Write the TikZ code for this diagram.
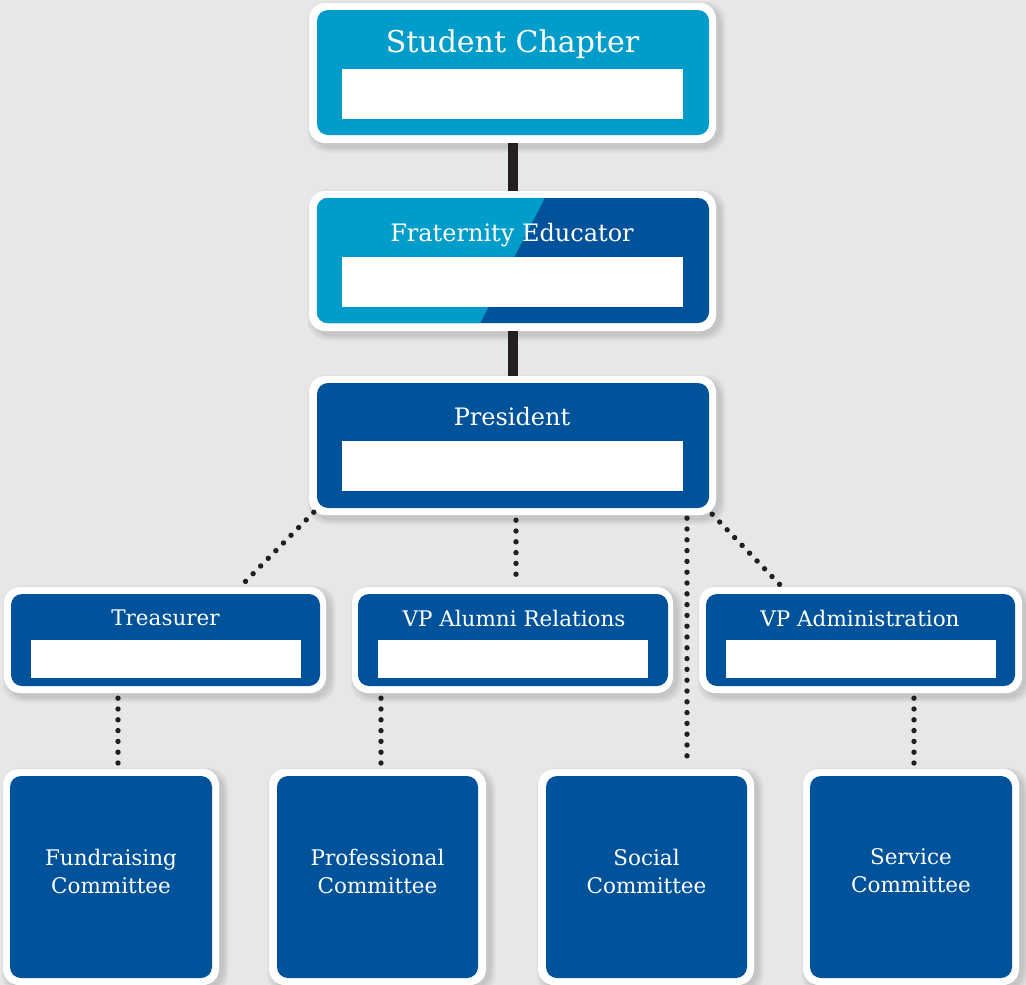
\documentclass[tikz,border=0pt]{standalone}
\usepackage{fontspec}
\setmainfont{DejaVu Serif}
\usetikzlibrary{calc}
\definecolor{bg}{HTML}{E6E7E9}
\definecolor{lblue}{HTML}{009CCA}
\definecolor{dblue}{HTML}{00529B}
\definecolor{ink}{HTML}{231F20}
\tikzset{
  outerbox/.style={draw=none, fill=white, rounded corners=16pt, inner sep=0pt},
  shadowbox/.style={draw=none, fill=black, fill opacity=0.035, rounded corners=20pt, inner sep=0pt},
  innerbox/.style={draw=none, rounded corners=11pt, inner sep=0pt},
  namefield/.style={draw=none, fill=white, inner sep=0pt},
  lbl/.style={text=white, inner sep=0pt, align=center},
  solidlink/.style={draw=ink, line width=10pt},
  dotlink/.style={draw=ink, line width=5.4pt, line cap=round, dash pattern=on 0pt off 10.8pt},
}
\begin{document}
\begin{tikzpicture}[x=1pt,y=-1pt]
\fill[bg] (0,0) rectangle (1026,985);
\useasboundingbox (0,0) rectangle (1026,985);

% ---------- soft shadows ----------
\foreach \cx/\cy/\w/\h in {512.5/73/407/140, 512.5/261/407/140, 512.5/445.5/407/139,
  165/640/322/106, 512.5/640/321/106, 860.5/640/323/106,
  111/877/216/216, 377.5/877/217/216, 646/877/216/216, 911/877/216/216}{
  \foreach \g in {2,5,8,11}{
    \node[shadowbox, minimum width=\w+\g, minimum height=\h+\g] at (\cx+4,\cy+4) {};
  }
}

% ---------- top level ----------
\node[outerbox, minimum width=407, minimum height=140] (sc) at (512.5,73) {};
\node[innerbox, fill=lblue, minimum width=392, minimum height=125] (sci) at (513,72.5) {};
\node[namefield, minimum width=341, minimum height=50] (scf) at (512.5,94) {};
\node[lbl, font=\fontsize{30}{32}\selectfont] (sct) at (512.5,44) {Student Chapter};

\node[outerbox, minimum width=407, minimum height=140] (fe) at (512.5,261) {};
\node[innerbox, fill=dblue, minimum width=392, minimum height=125] (fei) at (513,260.5) {};
\begin{scope}
  \clip[rounded corners=11pt] (fei.north west) rectangle (fei.south east);
  \fill[lblue] (300,185) -- (551.5,185) -- (474,335) -- (300,335) -- cycle;
\end{scope}
\node[namefield, minimum width=341, minimum height=50] (fef) at (512.5,282) {};
\node[lbl, font=\fontsize{24}{26}\selectfont] (fet) at (512,235) {Fraternity Educator};

\node[outerbox, minimum width=407, minimum height=139] (pr) at (512.5,445.5) {};
\node[innerbox, fill=dblue, minimum width=392, minimum height=125] (pri) at (513,445.5) {};
\node[namefield, minimum width=341, minimum height=50] (prf) at (512.5,466) {};
\node[lbl, font=\fontsize{24}{26}\selectfont] (prt) at (512,417) {President};

\path[solidlink] (sc.south) -- (fe.north);
\path[solidlink] (fe.south) -- (pr.north);

% ---------- second level ----------
\node[outerbox, minimum width=322, minimum height=106] (tr) at (165,640) {};
\node[innerbox, fill=dblue, minimum width=309, minimum height=92] (tri) at (165.5,640) {};
\node[namefield, minimum width=270, minimum height=38] (trf) at (166,659) {};
\node[lbl, font=\fontsize{21.5}{24}\selectfont] (trt) at (165.5,618) {Treasurer};

\node[outerbox, minimum width=321, minimum height=106] (va) at (512.5,640) {};
\node[innerbox, fill=dblue, minimum width=310, minimum height=92] (vai) at (513,640) {};
\node[namefield, minimum width=270, minimum height=38] (vaf) at (513,659) {};
\node[lbl, font=\fontsize{21.5}{24}\selectfont] (vat) at (514,618) {VP Alumni Relations};

\node[outerbox, minimum width=323, minimum height=106] (vd) at (860.5,640) {};
\node[innerbox, fill=dblue, minimum width=309, minimum height=92] (vdi) at (860.5,640) {};
\node[namefield, minimum width=270, minimum height=38] (vdf) at (861,659) {};
\node[lbl, font=\fontsize{21.5}{24}\selectfont] (vdt) at (860,618) {VP Administration};

% ---------- committees ----------
\node[outerbox, minimum width=216, minimum height=216] (fc) at (111,877) {};
\node[innerbox, fill=dblue, minimum width=202, minimum height=202] (fci) at (111,877) {};
\node[lbl, font=\fontsize{21.5}{28}\selectfont] (fct) at (111,871) {Fundraising\\Committee};

\node[outerbox, minimum width=217, minimum height=216] (pc) at (377.5,877) {};
\node[innerbox, fill=dblue, minimum width=201, minimum height=202] (pci) at (377.5,877) {};
\node[lbl, font=\fontsize{21.5}{28}\selectfont] (pct) at (377.5,871) {Professional\\Committee};

\node[outerbox, minimum width=216, minimum height=216] (soc) at (646,877) {};
\node[innerbox, fill=dblue, minimum width=201, minimum height=202] (soci) at (646.5,877) {};
\node[lbl, font=\fontsize{21.5}{28}\selectfont] (soct) at (646.5,871) {Social\\Committee};

\node[outerbox, minimum width=216, minimum height=216] (svc) at (911,877) {};
\node[innerbox, fill=dblue, minimum width=202, minimum height=202] (svci) at (911,877) {};
\node[lbl, font=\fontsize{21.5}{28}\selectfont] (svct) at (911,871) {Service\\Committee};

% ---------- dotted connectors ----------
\path[dotlink] ($(pr.south west)+(5,-3)$) -- ($(tr.north east)+(-88,2)$);
\path[dotlink] ($(pr.south)+(3.5,5)$) -- ($(va.north)+(3.5,-2)$);
\path[dotlink] ($(pr.south)+(174.5,3)$) -- ($(soc.north)+(41,-6)$);
\path[dotlink] ($(pr.south east)+(-4,-1)$) -- ($(vd.north west)+(85,2)$);
\path[dotlink] ($(tr.south)+(-47,5)$) -- ($(fc.north)+(7,-2)$);
\path[dotlink] ($(va.south)+(-131.5,5)$) -- ($(pc.north)+(3.5,-2)$);
\path[dotlink] ($(vd.south)+(53.5,5)$) -- ($(svc.north)+(3,-2)$);
\end{tikzpicture}
\end{document}
